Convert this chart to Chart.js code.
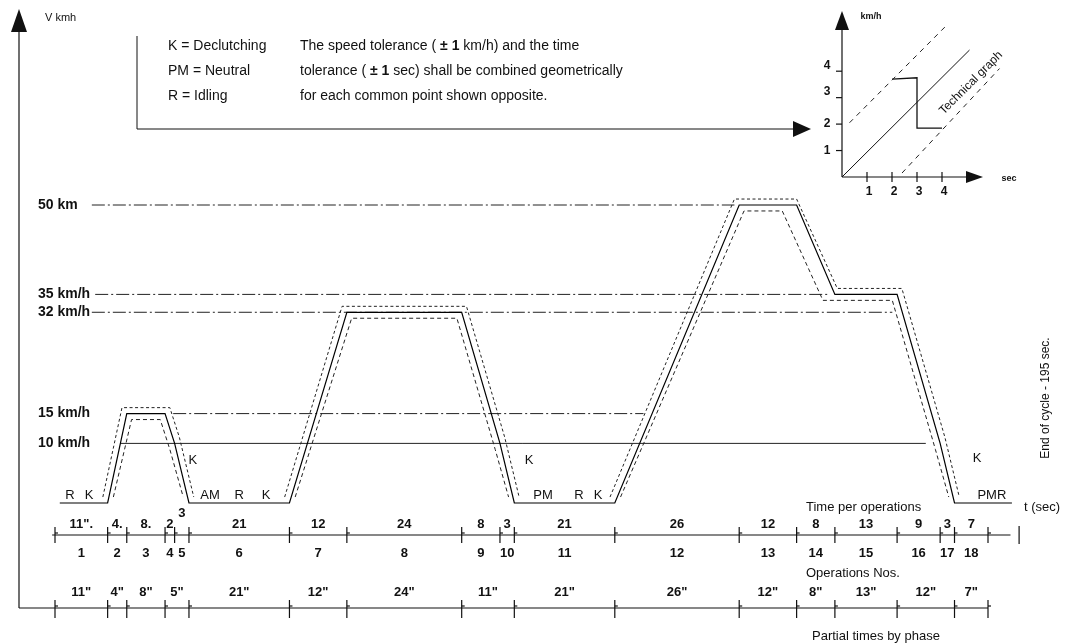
<!DOCTYPE html>
<html>
<head>
<meta charset="utf-8">
<title>Urban driving cycle</title>
<script src="https://cdn.jsdelivr.net/npm/chart.js@4.4.0/dist/chart.umd.min.js"></script>
<style>
  html, body { margin: 0; padding: 0; background: #fff; }
  #wrap { position: relative; width: 1089px; height: 644px; }
  .box { position: absolute; }
</style>
</head>
<body>
<div id="wrap">
  <div class="box" style="left:0;top:0;width:1089px;height:644px"><canvas id="cycleChart"></canvas></div>
  <div class="box" style="left:780px;top:0;width:309px;height:200px"><canvas id="insetChart"></canvas></div>
</div>
<script>
// ---- main cycle: time (s) / speed (km/h)
var cycleTime  = [1, 11, 15, 23, 25, 28, 49, 61, 85, 93, 96, 117, 143, 155, 163, 176, 185, 188, 200];
var cycleSpeed = [0, 0, 15, 15, 10, 0, 0, 32, 32, 10, 0, 0, 50, 50, 35, 35, 10, 0, 0];

// tolerance band as drawn (null speed = break between humps)
var upperTime  = [10, 14, 24, 26, 29, 38, 48, 60, 86, 94, 97, 106, 116, 142, 155, 163.5, 177, 186, 189];
var upperSpeed = [1, 16, 16, 11, 1, null, 1, 33, 33, 11, 1, null, 1, 51, 51, 36, 36, 11, 1];
var lowerTime  = [12.2, 16, 22, 24, 26.8, 38, 50.2, 62, 84, 92, 94.8, 106, 118.2, 144, 152, 160.5, 175, 184, 186.8];
var lowerSpeed = [1, 14, 14, 9, 1, null, 1, 31, 31, 9, 1, null, 1, 49, 49, 34, 34, 9, 1];

// reference speed levels
var refSpeeds  = [50, 35, 32, 15, 10];
var refLabels  = ['50 km', '35 km/h', '32 km/h', '15 km/h', '10 km/h'];
var refFrom    = [7.7, 8.4, 7.7, 24.7, 13.6];
var refTo      = [142, 162, 175, 123, 182];
var refSolid   = [false, false, false, false, true];

// operations
var opBounds     = [0, 11, 15, 23, 25, 28, 49, 61, 85, 93, 96, 117, 143, 155, 163, 176, 185, 188, 195];
var opTimeLabels = ['11".', '4.', '8.', '2', '3', '21', '12', '24', '8', '3', '21', '26', '12', '8', '13', '9', '3', '7'];
var opNumbers    = ['1', '2', '3', '4', '5', '6', '7', '8', '9', '10', '11', '12', '13', '14', '15', '16', '17', '18'];

// phases
var phaseBounds = [0, 11, 15, 23, 28, 49, 61, 85, 96, 117, 143, 155, 163, 176, 188, 195];
var phaseLabels = ['11"', '4"', '8"', '5"', '21"', '12"', '24"', '11"', '21"', '26"', '12"', '8"', '13"', '12"', '7"'];

// gear state letters along the curve
var stateText  = ['R', 'K', 'K', 'AM', 'R', 'K', 'K', 'PM', 'R', 'K', 'K', 'PMR'];
var stateTime  = [3.1, 7.1, 28.8, 32.4, 38.5, 44.1, 99.1, 102, 109.5, 113.5, 192.7, 195.8];
var stateSpeed = [1.3, 1.3, 7.2, 1.3, 1.3, 1.3, 7.2, 1.3, 1.3, 1.3, 7.5, 1.3];

// ---- inset "technical graph"
var insetLineT  = [0, 5.1];
var insetLineV  = [0, 4.8];
var insetUpperT = [0.3, 4.2];
var insetUpperV = [2.05, 5.75];
var insetLowerT = [2.4, 6.3];
var insetLowerV = [0.15, 4.1];
var insetStepT  = [2, 3, 3, 4];
var insetStepV  = [3.7, 3.75, 1.85, 1.85];
var insetTicks  = [1, 2, 3, 4];

var FONT = '"Liberation Sans", Arial, sans-serif';
var INK = '#111';

function pts(xs, ys) {
  var out = [];
  for (var i = 0; i < xs.length; i++) out.push({x: xs[i], y: ys[i]});
  return out;
}

function line(c, x1, y1, x2, y2) {
  c.beginPath(); c.moveTo(x1, y1); c.lineTo(x2, y2); c.stroke();
}

function tri(c, a, b, d) {
  c.beginPath(); c.moveTo(a[0], a[1]); c.lineTo(b[0], b[1]); c.lineTo(d[0], d[1]); c.closePath(); c.fill();
}

function runs(c, parts, x, y) {
  parts.forEach(function(p) {
    c.font = p[1];
    c.fillText(p[0], x, y);
    x += c.measureText(p[0]).width;
  });
}

var cycleDecor = {
  id: 'cycleDecor',
  afterDraw: function(chart) {
    var c = chart.ctx, xs = chart.scales.x, ys = chart.scales.y;
    var X = function(t) { return xs.getPixelForValue(t); };
    c.save();
    c.strokeStyle = INK; c.fillStyle = INK; c.lineWidth = 1.2;

    // main axis with arrow, running down into the phase row
    line(c, 19, 30, 19, 608);
    tri(c, [19, 9], [11, 32], [27, 32]);
    line(c, 19, 608, X(195), 608);
    c.textBaseline = 'middle';
    c.font = '11px ' + FONT;
    c.fillText('V kmh', 45, 18);

    // legend box with arrow to inset
    c.lineWidth = 1;
    line(c, 137, 36, 137, 129);
    line(c, 137, 129, 793, 129);
    tri(c, [811, 129], [793, 121], [793, 137]);
    var f = '14px ' + FONT, fb = 'bold 14px ' + FONT;
    c.font = f;
    c.fillText('K = Declutching', 168, 46);
    c.fillText('PM = Neutral', 168, 71);
    c.fillText('R = Idling', 168, 96);
    runs(c, [['The speed tolerance ( ', f], ['\u00b1 1', fb], [' km/h) and the time', f]], 300, 46);
    runs(c, [['tolerance ( ', f], ['\u00b1 1', fb], [' sec) shall be combined geometrically', f]], 300, 71);
    c.font = f;
    c.fillText('for each common point shown opposite.', 300, 96);

    // speed level labels
    c.font = 'bold 14px ' + FONT;
    refSpeeds.forEach(function(v, i) { c.fillText(refLabels[i], 38, ys.getPixelForValue(v)); });

    // state letters
    c.textAlign = 'center';
    c.font = '13px ' + FONT;
    stateText.forEach(function(s, i) { c.fillText(s, X(stateTime[i]), ys.getPixelForValue(stateSpeed[i])); });

    // time per operation row
    var r1 = 535;
    c.lineWidth = 1.2;
    line(c, X(-0.6), r1, X(199.7), r1);
    opBounds.forEach(function(t) { line(c, X(t), r1 - 8, X(t), r1 + 8); line(c, X(t), r1 - 2, X(t) + 3, r1 - 2); });
    line(c, X(201.5), r1 - 9, X(201.5), r1 + 9);
    c.font = 'bold 13px ' + FONT;
    opTimeLabels.forEach(function(s, i) {
      var mid = X((opBounds[i] + opBounds[i + 1]) / 2);
      c.fillText(s, mid, i === 4 ? r1 - 22 : r1 - 11);
      c.fillText(opNumbers[i], mid, r1 + 18);
    });

    // partial time per phase row
    var r2 = 608;
    phaseBounds.forEach(function(t) { line(c, X(t), r2 - 8, X(t), r2 + 10); line(c, X(t), r2 - 2, X(t) + 3, r2 - 2); });
    phaseLabels.forEach(function(s, i) {
      c.fillText(s, X((phaseBounds[i] + phaseBounds[i + 1]) / 2), r2 - 16);
    });

    // captions
    c.textAlign = 'left';
    c.font = '13px ' + FONT;
    c.fillText('Time per operations', 806, 507);
    c.fillText('Operations Nos.', 806, 573);
    c.fillText('Partial times by phase', 812, 636);
    c.fillText('t (sec)', 1024, 507);

    c.translate(1046, 398);
    c.rotate(-Math.PI / 2);
    c.textAlign = 'center';
    c.font = '12px ' + FONT;
    c.fillText('End of cycle - 195 sec.', 0, 0);
    c.restore();
  }
};

var cycleSets = [
  { data: pts(cycleTime, cycleSpeed), borderColor: '#000', borderWidth: 1.2 },
  { data: pts(upperTime, upperSpeed), borderColor: '#222', borderWidth: 1, borderDash: [3, 2.5] },
  { data: pts(lowerTime, lowerSpeed), borderColor: '#222', borderWidth: 1, borderDash: [4, 3] }
];
for (var i = 0; i < refSpeeds.length; i++) {
  cycleSets.push({
    data: [{x: refFrom[i], y: refSpeeds[i]}, {x: refTo[i], y: refSpeeds[i]}],
    borderColor: '#222', borderWidth: 1,
    borderDash: refSolid[i] ? [] : [13, 3, 2, 3]
  });
}
cycleSets.forEach(function(d) { d.pointRadius = 0; d.clip = false; d.spanGaps = false; d.fill = false; });

var ctx1 = document.getElementById('cycleChart').getContext('2d');
var cycleChart = new Chart(ctx1, {
  type: 'line',
  data: { datasets: cycleSets },
  options: {
    responsive: true,
    maintainAspectRatio: false,
    animation: false,
    layout: { padding: { left: 55, right: 101, top: 205, bottom: 141 } },
    scales: {
      x: { type: 'linear', min: 0, max: 195, display: false },
      y: { type: 'linear', min: 0, max: 50, display: false }
    },
    elements: { line: { tension: 0 } },
    plugins: { legend: { display: false }, tooltip: { enabled: false } }
  },
  plugins: [cycleDecor]
});

var insetDecor = {
  id: 'insetDecor',
  afterDraw: function(chart) {
    var c = chart.ctx, xs = chart.scales.x, ys = chart.scales.y;
    var ox = xs.getPixelForValue(0), oy = ys.getPixelForValue(0);
    c.save();
    c.strokeStyle = INK; c.fillStyle = INK; c.lineWidth = 1.2;
    line(c, ox, oy, ox, 28);
    tri(c, [ox, 11], [ox - 7, 30], [ox + 7, 30]);
    line(c, ox, oy, 188, oy);
    tri(c, [203, oy], [186, oy - 6], [186, oy + 6]);
    c.font = 'bold 12px ' + FONT;
    c.textAlign = 'center'; c.textBaseline = 'middle';
    insetTicks.forEach(function(t) {
      var px = xs.getPixelForValue(t), py = ys.getPixelForValue(t);
      line(c, px, oy - 5, px, oy + 5);
      line(c, ox - 6, py, ox, py);
      c.fillText(String(t), px + 2, oy + 15);
      c.fillText(String(t), ox - 15, py - (t > 2 ? 6 : 0));
    });
    c.font = 'bold 9px ' + FONT;
    c.fillText('km/h', 91, 17);
    c.fillText('sec', 229, oy + 2);
    c.translate(191, 83);
    c.rotate(-Math.PI / 4);
    c.font = '12px ' + FONT;
    c.fillText('Technical graph', 0, 0);
    c.restore();
  }
};

var insetSets = [
  { data: pts(insetLineT, insetLineV), borderColor: '#111', borderWidth: 1 },
  { data: pts(insetUpperT, insetUpperV), borderColor: '#222', borderWidth: 1, borderDash: [5, 5] },
  { data: pts(insetLowerT, insetLowerV), borderColor: '#222', borderWidth: 1, borderDash: [5, 5] },
  { data: pts(insetStepT, insetStepV), borderColor: '#111', borderWidth: 1.3 }
];
insetSets.forEach(function(d) { d.pointRadius = 0; d.clip = false; d.fill = false; });

var ctx2 = document.getElementById('insetChart').getContext('2d');
var insetChart = new Chart(ctx2, {
  type: 'line',
  data: { datasets: insetSets },
  options: {
    responsive: true,
    maintainAspectRatio: false,
    animation: false,
    layout: { padding: { left: 62, right: 87, top: 13, bottom: 23 } },
    scales: {
      x: { type: 'linear', min: 0, max: 6.4, display: false },
      y: { type: 'linear', min: 0, max: 6.2, display: false }
    },
    elements: { line: { tension: 0 } },
    plugins: { legend: { display: false }, tooltip: { enabled: false } }
  },
  plugins: [insetDecor]
});
</script>
</body>
</html>
